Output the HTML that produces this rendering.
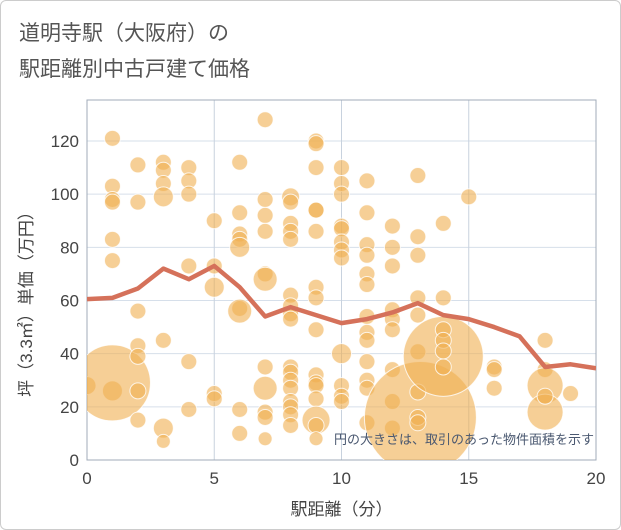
<!DOCTYPE html>
<html><head><meta charset="utf-8"><style>
body{margin:0;background:#fff;}
#wrap{position:relative;width:619px;height:528px;border:1px solid #ccc;border-radius:6px;overflow:hidden;font-family:"Liberation Sans","Noto Sans CJK JP",sans-serif;}
.t{position:absolute;left:18px;color:#555;font-size:21px;}
</style></head><body>
<div id="wrap">
<div class="t" style="top:16px">道明寺駅（大阪府）の</div>
<div class="t" style="top:52px">駅距離別中古戸建て価格</div>
<svg id="chart" width="621" height="530" style="position:absolute;left:-1px;top:-1px"></svg>
</div>
<script>
const lineX=[0,1,2,3,4,5,6,7,8,9,10,11,12,13,14,15,16,17,18,19,20];
const lineY=[60.5,61,64.5,72,68,73,65,54,57.5,54.5,51.5,53,55.5,59,54.5,53,50,46.5,35,36,34.5];
const bubbleX=[0,1,1,1,1,1,1,1,1,2,2,2,2,2,2,2,3,3,3,3,3,3,3,4,4,4,4,4,4,5,5,5,5,5,6,6,6,6,6,6,6,6,6,7,7,7,7,7,7,7,7,7,7,7,
8,8,8,8,8,8,8,8,8,8,8,8,8,8,8,8,8,9,9,9,9,9,9,9,9,9,9,9,9,9,9,9,9,10,10,10,10,10,10,10,10,10,10,10,10,
11,11,11,11,11,11,11,11,11,11,11,11,11,12,12,12,12,12,12,12,12,12,13.1,13,13,13,13,13,13,13,13,13,14,14,14,14,14,14,14,15,16,16,16,18,18,18,18,18,19];
const bubbleY=[28,121,103,98,97,83,75,26,29,111,97,56,43,39,26,15,112,109,104,99,45,12,7,110,105,100,73,37,19,90,73,65,25,23,112,93,85,83,80,57,56,19,10,128,98,92,86,70,68,35,27,18,16,8,
99,97,89,86,83,62,58,55,53,35,33,30,27,22,20,17,13,120,119,110,94,94,86,65,61,49,32,29,28,23,15,13,8,110,104,100,88,87,82,79,76,40,28,24,22,
105,93,81,77,70,66,54,48,45,37,30,27,14,88,80,73,56.5,53,49,34,22,12,16,107,84,77,61,54.5,40.7,25.6,16,14,39,89,61,49,45,41,35,99,35,34,27,45,34,28,18,24,25];
const bubbleR=[9,8,8,8,8,8,8,10,38,8,8,8,8,8,8,8,8,8,8,10,8,10,7,8,8,8,8,8,8,8,8,10,8,8,8,8,8,8,10,8,12,8,8,8,8,8,8,8,12,8,12,8,8,7,
9,8,8,8,8,8,8,8,8,8,8,8,8,8,8,8,8,8,8,8,8,8,8,8,8,8,8,8,8,8,14,8,7,8,8,8,8,8,8,8,8,10,8,8,8,
8,8,8,8,8,8,8,8,8,8,8,8,8,8,8,8,8,8,8,8,8,8,56,8,8,8,8,8,8,8,8,8,40,8,8,8,8,8,8,8,8,8,8,8,8,18,18,8,8];
const xTicks=[0,5,10,15,20];
const yTicks=[0,20,40,60,80,100,120];
const L=87,R=596,T=100,B=460;
const sx=v=>L+(R-L)*v/20, sy=v=>B-(B-141)*v/120;
const svg=document.getElementById('chart');
const NS='http://www.w3.org/2000/svg';
function mk(t,a){const e=document.createElementNS(NS,t);for(const k in a)e.setAttribute(k,a[k]);svg.appendChild(e);return e;}
yTicks.forEach(v=>{const g=mk('line',{x1:L,x2:R,y1:sy(v),y2:sy(v),stroke:'#d6dfea','stroke-width':1});


const t=mk('text',{x:L-8,y:sy(v)+6,'text-anchor':'end','font-size':17,fill:'#444'});t.textContent=v;

});
xTicks.forEach(v=>{const g=mk('line',{x1:sx(v),x2:sx(v),y1:T,y2:B,stroke:'#c8d2de','stroke-width':1});


const t=mk('text',{x:sx(v),y:B+24,'text-anchor':'middle','font-size':17,fill:'#444'});t.textContent=v;

});
const fr=mk('rect',{x:L,y:T,width:R-L,height:B-T,fill:'none',stroke:'#a0abb8','stroke-width':1});


const cp=mk('clipPath',{id:'cp'});const cr=document.createElementNS(NS,'rect');cr.setAttribute('x',L);cr.setAttribute('y',T);cr.setAttribute('width',R-L);cr.setAttribute('height',B-T);cp.appendChild(cr);
const g=mk('g',{'clip-path':'url(#cp)'});


bubbleX.forEach((x,i)=>{const c=document.createElementNS(NS,'circle');c.setAttribute('cx',sx(x));c.setAttribute('cy',sy(bubbleY[i]));c.setAttribute('r',bubbleR[i]);c.setAttribute('fill','rgba(240,175,80,0.6)');c.setAttribute('stroke','rgba(255,255,255,0.8)');c.setAttribute('stroke-width',1);


g.appendChild(c);});
const pl=mk('polyline',{points:lineX.map((x,i)=>sx(x)+','+sy(lineY[i])).join(' '),fill:'none',stroke:'#d5715a','stroke-width':4.5,'stroke-linejoin':'round','clip-path':'url(#cp)'});


const note=mk('text',{x:594,y:444,'text-anchor':'end','font-size':13,fill:'#4a5870'});note.textContent='円の大きさは、取引のあった物件面積を示す';


const xt=mk('text',{x:(L+R)/2,y:515,'text-anchor':'middle','font-size':17,fill:'#444'});xt.textContent='駅距離（分）';


const yt=mk('text',{x:0,y:0,'text-anchor':'middle','font-size':17,fill:'#444',transform:'translate(32,300) rotate(-90)'});yt.textContent='坪（3.3㎡）単価（万円）';


</script>
</body></html>
